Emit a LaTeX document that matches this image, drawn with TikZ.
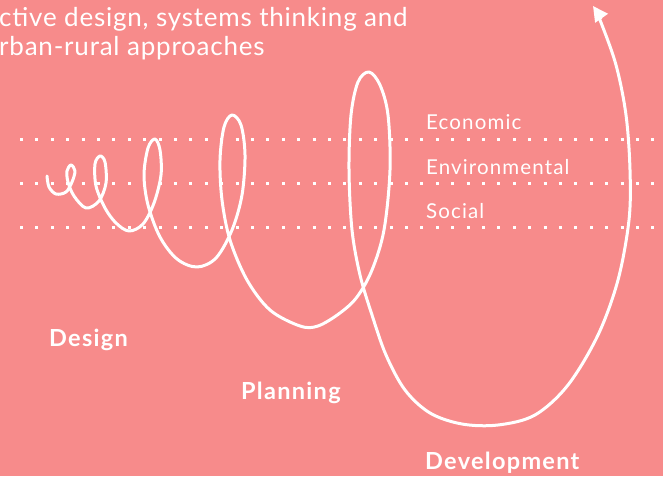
\documentclass[tikz,border=0pt]{standalone}
\usepackage{fontspec}
\setmainfont{Lato}
\newfontfamily\lightfont{Lato}[LetterSpace=3]
\newfontfamily\lightlabelfont{Lato}[LetterSpace=5.5]
\newfontfamily\stagefont{Lato}[LetterSpace=5.5]
\usetikzlibrary{arrows.meta}
\definecolor{bgpink}{RGB}{247,139,139}
\tikzset{
  thin label/.style={text=white, inner sep=0pt, anchor=base west, font=\lightlabelfont\fontsize{20.5}{24}\selectfont},
  head text/.style={text=white, inner sep=0pt, anchor=base west, font=\lightfont\fontsize{26}{30}\selectfont},
  stage label/.style={text=white, inner sep=0pt, anchor=base west, font=\stagefont\bfseries\fontsize{23.5}{27}\selectfont},
  dotrow/.style={white, line width=3pt, dash pattern=on 3pt off 12.4pt},
  spiral/.style={white, line width=3pt, line cap=round, line join=round},
}
\begin{document}
\begin{tikzpicture}[x=1pt,y=-1pt]
\fill[bgpink] (0,0) rectangle (663,476);
\useasboundingbox (0,0) rectangle (663,476);
% dotted rows
\coordinate (r1a) at (20,139.3); \coordinate (r1b) at (663,139.3);
\coordinate (r2a) at (20,183.3); \coordinate (r2b) at (663,183.3);
\coordinate (r3a) at (20,227.3); \coordinate (r3b) at (663,227.3);
\draw[dotrow] (r1a) -- (r1b);
\draw[dotrow] (r2a) -- (r2b);
\draw[dotrow] (r3a) -- (r3b);
% heading
\node[head text] (h1) at (-1,27) {ctive design, systems thinking and};
\node[head text] (h2) at (-1,56) {rban-rural approaches};
% row labels
\node[thin label] (eco) at (426,129) {Economic};
\node[thin label] (env) at (426,174) {Environmental};
\node[thin label] (soc) at (426,218) {Social};
% stage labels
\node[stage label] (des) at (49,346.5) {Design};
\node[stage label] (pla) at (241,399.5) {Planning};
\node[stage label] (dev) at (425,469.5) {Development};
% spiral
\draw[spiral, -{Triangle[width=15pt,length=15pt]}] plot[smooth, tension=0.55] coordinates {
(47,176) (49,187) (56,194) (66,192) (72,182) (75,171) (71,165) (67,171) (68,182)
(74,196) (86,208) (99,201) (106,183) (105,162) (100,156) (95,164) (96,186)
(105,208) (116,223) (129,231) (143,224) (154,203) (161,175) (160,150) (155,139)
(148,148) (144,175) (148,205) (160,237) (177,259) (197,267) (216,258) (232,230)
(242,195) (245,155) (241,125) (232,115) (224,127) (220,160) (222,200) (230,240)
(247,280) (270,310) (300,326) (318,326) (340,313) (357,297) (372,270) (384,230)
(390,170) (388,115) (380,85) (369,72) (358,82) (351,115) (349,170) (352,230)
(360,275) (372,315) (386,355) (405,390) (430,413) (462,424) (498,425) (535,415)
(568,385) (598,335) (618,280) (629,220) (630,170) (626,115) (616,65) (600,20) (593,6)};
\end{tikzpicture}
\end{document}
